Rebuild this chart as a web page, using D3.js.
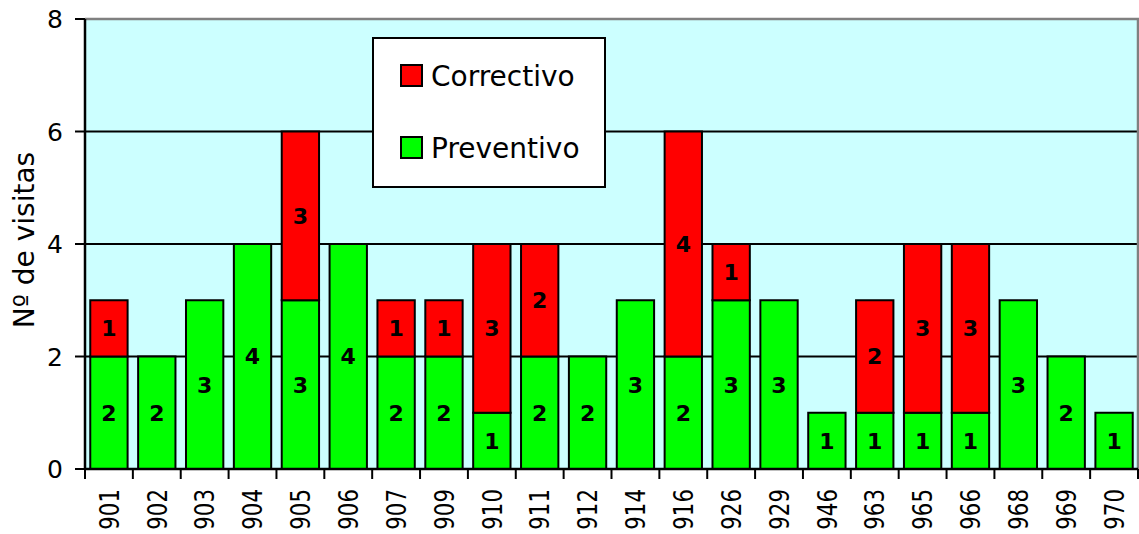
<!DOCTYPE html>
<html>
<head>
<meta charset="utf-8">
<script src="https://cdn.jsdelivr.net/npm/d3@7"></script>
<style>
  body { margin: 0; background: #fff; }
  svg text { font-family: "DejaVu Sans", sans-serif; fill: #000; }
</style>
</head>
<body>
<div id="chart"></div>
<script>
(function() {
'use strict';

const categories = ['901','902','903','904','905','906','907','909','910','911','912','914','916','926','929','946','963','965','966','968','969','970'];
const preventivo = [2,2,3,4,3,4,2,2,1,2,2,3,2,3,3,1,1,1,1,3,2,1];
const correctivo = [1,0,0,0,3,0,1,1,3,2,0,0,4,1,0,0,2,3,3,0,0,0];
const yTicks = [0,2,4,6,8];
const seriesNames = ['Preventivo','Correctivo'];
const seriesColors = ['#00ff00','#ff0000'];

const width = 1139;
const height = 534;
const margin = {top: 19, right: 1, bottom: 65, left: 85};
const innerW = width - margin.left - margin.right;
const innerH = height - margin.top - margin.bottom;

const svg = d3.select('#chart')
  .append('svg')
  .attr('width', width)
  .attr('height', height);

const g = svg.append('g')
  .attr('transform', 'translate(' + margin.left + ',' + margin.top + ')');

const x = d3.scaleBand()
  .domain(categories)
  .range([0, innerW])
  .paddingInner(0.22)
  .paddingOuter(0.11);

const y = d3.scaleLinear()
  .domain([0, 8])
  .range([innerH, 0]);

// plot background
g.append('rect')
  .attr('width', innerW)
  .attr('height', innerH)
  .attr('fill', '#ccffff');

// gridlines
g.selectAll('.grid')
  .data(yTicks.filter(d => d > 0 && d < 8))
  .enter()
  .append('line')
  .attr('x1', 0)
  .attr('x2', innerW)
  .attr('y1', d => y(d))
  .attr('y2', d => y(d))
  .attr('stroke', '#000')
  .attr('stroke-width', 2);

// top and right border (gray)
g.append('path')
  .attr('d', 'M0,' + y(8) + 'H' + innerW + 'V' + y(0))
  .attr('fill', 'none')
  .attr('stroke', '#808080')
  .attr('stroke-width', 2.5);

const data = categories.map((c, i) => ({cat: c, values: [preventivo[i], correctivo[i]]}));
const stacked = [];
data.forEach(d => {
  let base = 0;
  d.values.forEach((v, k) => {
    if (v > 0) stacked.push({cat: d.cat, k: k, y0: base, y1: base + v, v: v});
    base += v;
  });
});

g.selectAll('.bar')
  .data(stacked)
  .enter()
  .append('rect')
  .attr('class', 'bar')
  .attr('x', d => x(d.cat))
  .attr('width', x.bandwidth())
  .attr('y', d => y(d.y1))
  .attr('height', d => y(d.y0) - y(d.y1))
  .attr('fill', d => seriesColors[d.k])
  .attr('stroke', '#000')
  .attr('stroke-width', 2);

g.selectAll('.lbl')
  .data(stacked)
  .enter()
  .append('text')
  .attr('class', 'lbl')
  .attr('x', d => x(d.cat) + x.bandwidth() / 2)
  .attr('y', d => (y(d.y0) + y(d.y1)) / 2)
  .attr('dy', '0.36em')
  .attr('text-anchor', 'middle')
  .style('font-weight', 'bold')
  .style('font-size', '22px')
  .text(d => d.v);

// y axis
g.append('line')
  .attr('x1', 0).attr('x2', 0)
  .attr('y1', 0).attr('y2', innerH)
  .attr('stroke', '#000')
  .attr('stroke-width', 2.5);

g.selectAll('.ytick')
  .data(yTicks)
  .enter()
  .append('line')
  .attr('x1', -10).attr('x2', 0)
  .attr('y1', d => y(d)).attr('y2', d => y(d))
  .attr('stroke', '#000')
  .attr('stroke-width', 2);

g.selectAll('.ylbl')
  .data(yTicks)
  .enter()
  .append('text')
  .attr('x', -22)
  .attr('y', d => y(d))
  .attr('dy', '0.36em')
  .attr('text-anchor', 'end')
  .style('font-size', '25px')
  .text(d => d);

// x axis
g.append('line')
  .attr('x1', 0).attr('x2', innerW)
  .attr('y1', innerH).attr('y2', innerH)
  .attr('stroke', '#000')
  .attr('stroke-width', 2.5);

const step = x.step();
g.selectAll('.xtick')
  .data(d3.range(categories.length + 1))
  .enter()
  .append('line')
  .attr('x1', i => i * step).attr('x2', i => i * step)
  .attr('y1', innerH).attr('y2', innerH + 10)
  .attr('stroke', '#000')
  .attr('stroke-width', 2);

// x labels are narrow in the original, so squeeze along the text direction
g.selectAll('.xlbl')
  .data(categories)
  .enter()
  .append('text')
  .attr('transform', d => 'translate(' + (x(d) + x.bandwidth() / 2) + ',' + (innerH + 20) + ') rotate(-90) scale(0.79,1)')
  .attr('dy', '0.36em')
  .attr('text-anchor', 'end')
  .style('font-size', '27px')
  .text(d => d);

// y title
svg.append('text')
  .attr('transform', 'translate(24,240) rotate(-90)')
  .attr('dy', '0.36em')
  .attr('text-anchor', 'middle')
  .style('font-size', '28px')
  .text('Nº de visitas');

// legend
const legend = svg.append('g')
  .attr('transform', 'translate(373,38)');

legend.append('rect')
  .attr('width', 232)
  .attr('height', 149)
  .attr('fill', '#fff')
  .attr('stroke', '#000')
  .attr('stroke-width', 2);

const legendItems = [1, 0];
legendItems.forEach((k, i) => {
  const item = legend.append('g')
    .attr('transform', 'translate(28,' + (27 + i * 72) + ')');
  item.append('rect')
    .attr('width', 21)
    .attr('height', 21)
    .attr('fill', seriesColors[k])
    .attr('stroke', '#000')
    .attr('stroke-width', 2);
  item.append('text')
    .attr('x', 30)
    .attr('y', 21)
    .style('font-size', '28px')
    .text(seriesNames[k]);
});

})();
</script>
</body>
</html>
